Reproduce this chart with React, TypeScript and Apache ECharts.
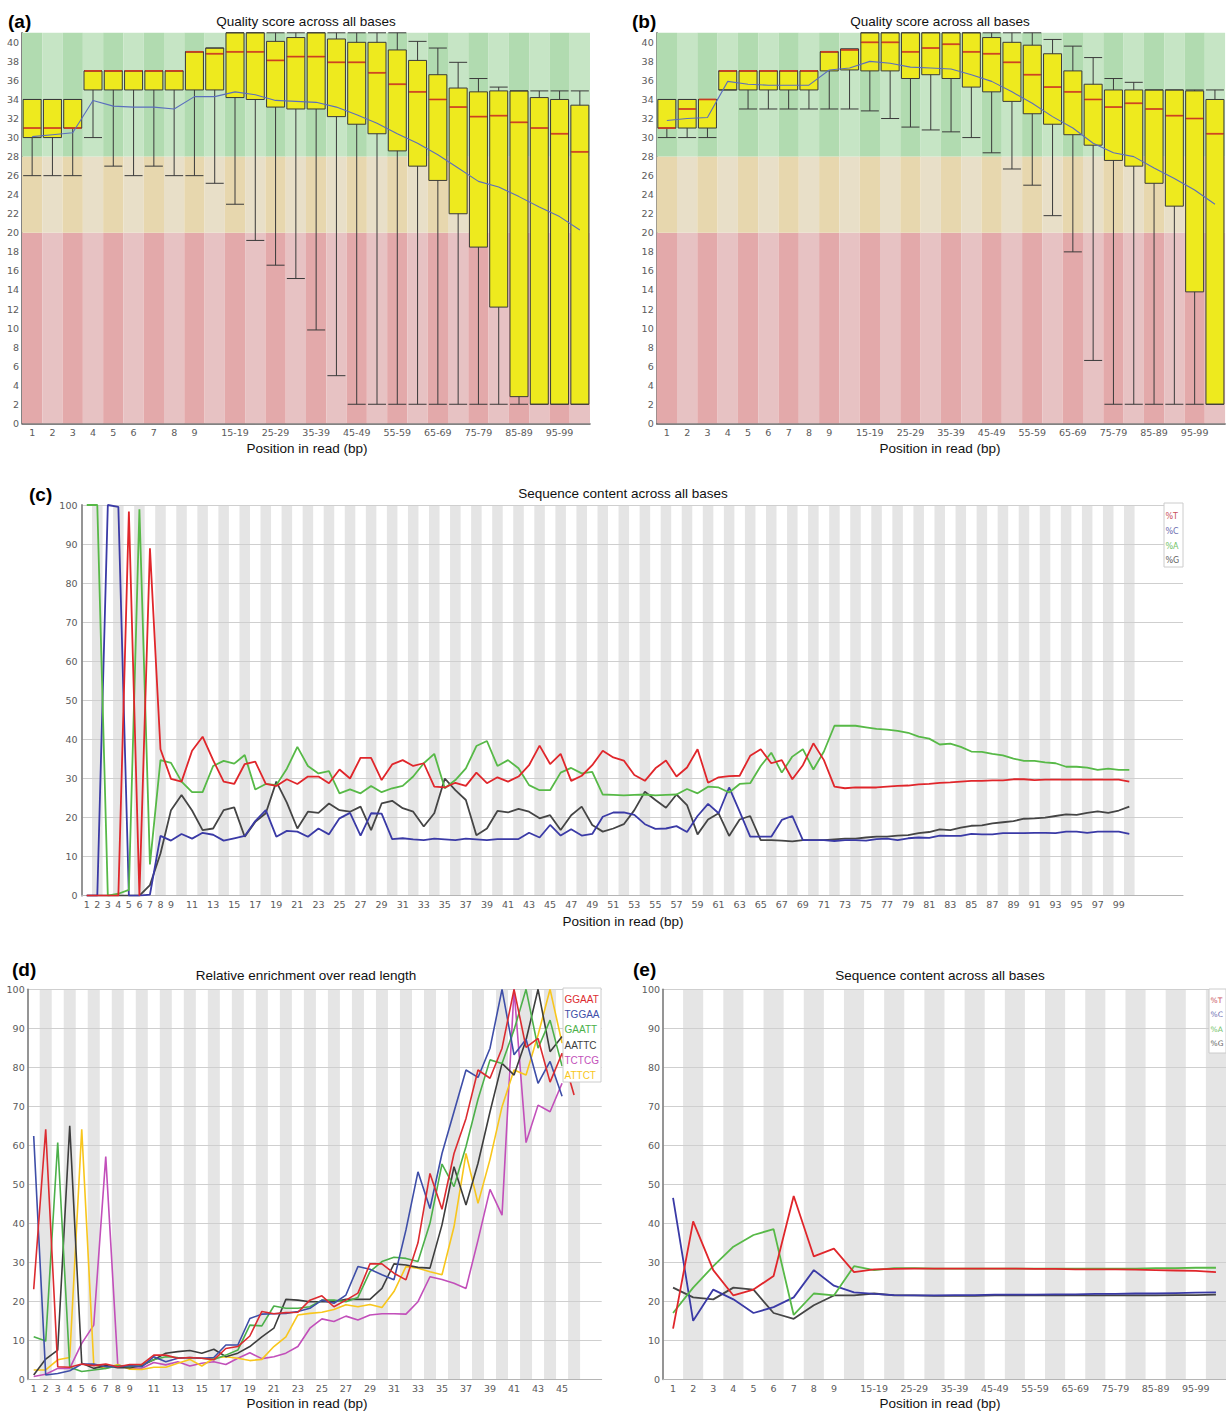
import React, { useEffect, useRef } from 'react';
import * as echarts from 'echarts';

// ---------- DATA ----------
const qualCats = ['1','2','3','4','5','6','7','8','9','10-14','15-19','20-24','25-29','30-34','35-39','40-44','45-49','50-54','55-59','60-64','65-69','70-74','75-79','80-84','85-89','90-94','95-99','100-101'];

// [min, Q1, median, Q3, max]
const boxA = [
  [26, 30, 31, 34, 34], [26, 30, 31, 34, 34], [26, 31, 31, 34, 34], [30, 35, 37, 37, 37],
  [27, 35, 37, 37, 37], [26, 35, 37, 37, 37], [27, 35, 37, 37, 37], [26, 35, 37, 37, 37],
  [26, 35, 39, 39, 39], [25.2, 35, 38.8, 39.4, 39.4], [23, 34.2, 39, 41, 41], [19.2, 34, 39, 41, 41],
  [16.6, 33.2, 38.1, 40.1, 41], [15.2, 33, 38.5, 40.5, 41], [9.8, 33, 38.5, 41, 41], [5, 32.2, 37.9, 40.35, 41],
  [2, 31.4, 37.9, 40, 41], [2, 30.4, 36.8, 40, 41], [2, 28.6, 35.6, 39.2, 41], [2, 27, 34.8, 38.1, 40.1],
  [2, 25.5, 34, 36.6, 39.4], [2, 22, 33.2, 35.2, 37.9], [2, 18.5, 32.2, 34.8, 36.2], [2, 12.2, 32.3, 34.9, 35.3],
  [2, 2.8, 31.6, 34.9, 34.9], [2, 2, 31, 34.2, 34.9], [2, 2, 30.4, 34, 34.9], [2, 2, 28.5, 33.4, 34.9]
];
const meanA = [30.1, 30.3, 30.5, 33.9, 33.3, 33.2, 33.2, 33.0, 34.3, 34.3, 34.8, 34.5, 33.9, 33.8, 33.7, 33.2, 32.4, 31.5, 30.4, 29.4, 28.2, 26.8, 25.4, 24.8, 23.8, 22.7, 21.7, 20.3];

const boxB = [
  [30, 31, 31, 34, 34], [30, 31, 33, 34, 34], [30, 31, 34, 34, 34], [35, 35, 37, 37, 37],
  [33, 35, 37, 37, 37], [33, 35, 37, 37, 37], [33, 35, 37, 37, 37], [33, 35, 37, 37, 37],
  [33, 37, 39, 39, 39], [33, 37.1, 39.2, 39.3, 39.3], [32.8, 37, 40, 41, 41], [32, 37, 40, 41, 41],
  [31.1, 36.2, 39, 41, 41], [30.8, 36.6, 39.4, 41, 41], [30.6, 36.2, 39.8, 41, 41], [30, 35.3, 39, 41, 41],
  [28.4, 34.8, 38.8, 40.5, 41], [26.7, 33.8, 37.9, 40, 41], [25, 32.5, 36.6, 39.7, 41], [21.8, 31.4, 35.3, 38.8, 40.3],
  [18, 30.3, 34.8, 37, 39.6], [6.6, 29.2, 34, 35.6, 38.4], [2, 27.6, 33.2, 35, 36.2], [2, 27, 33.6, 35, 35.8],
  [2, 25.2, 33, 35, 35], [2, 22.8, 32.3, 35, 35], [2, 13.8, 32, 34.9, 35], [2, 2, 30.4, 34, 35]
];
const meanB = [31.8, 32.0, 32.1, 35.9, 35.6, 35.5, 35.5, 35.5, 37.1, 37.3, 38.0, 37.8, 37.4, 37.3, 37.2, 36.6, 35.9, 34.8, 33.6, 32.2, 31.0, 29.4, 28.4, 28.0, 26.8, 25.7, 24.5, 23.0];

const qualZoneTops = [20, 28, 41];

// panel (c): positions 1..100
const contentT = [
  0, 0, 0, 0, 98.3, 0, 88.9, 37.5, 29.9, 29.2,
  37.1, 40.7, 34.7, 29.2, 28.6, 33.7, 34.3, 28.6, 28.1, 29.8,
  28.6, 30.5, 30.5, 28.8, 32.3, 30.0, 35.3, 35.3, 29.6, 33.6,
  34.7, 33.2, 33.9, 27.9, 27.7, 28.9, 28.1, 31.5, 28.8, 30.3,
  29.2, 30.5, 33.4, 38.4, 33.7, 36.3, 29.4, 30.7, 33.4, 37.1,
  35.4, 34.6, 30.9, 29.4, 32.6, 34.6, 30.5, 32.8, 37.5, 28.9,
  30.3, 30.6, 30.7, 35.8, 37.5, 33.9, 34.7, 29.8, 33.4, 39.0,
  34.7, 27.9, 27.5, 27.7, 27.7, 27.7, 27.9, 28.1, 28.2, 28.5,
  28.6, 28.9, 29.0, 29.2, 29.4, 29.4, 29.5, 29.5, 29.8, 29.8,
  29.6, 29.7, 29.7, 29.7, 29.7, 29.7, 29.7, 29.7, 29.7, 29.2
];
const contentC = [
  0, 0, 100, 99.5, 0, 0, 0.3, 15.3, 14.1, 15.8,
  14.6, 16.1, 15.6, 14.1, 14.7, 15.3, 19.1, 21.9, 15.1, 16.6,
  16.4, 15.1, 17.2, 15.7, 19.8, 21.2, 15.4, 21.1, 21.0, 14.5,
  14.7, 14.4, 14.2, 14.6, 14.4, 14.2, 14.6, 14.4, 14.2, 14.5,
  14.5, 14.5, 16.1, 14.9, 18.1, 15.4, 17.0, 15.4, 15.8, 20.2,
  21.3, 21.3, 20.7, 18.3, 17.1, 17.2, 17.8, 16.3, 20.4, 23.5,
  21.1, 27.7, 21.5, 15.1, 15.1, 15.1, 19.4, 20.4, 14.2, 14.2,
  14.2, 14.0, 14.2, 14.2, 14.1, 14.5, 14.6, 14.2, 14.7, 14.9,
  14.8, 15.4, 15.3, 15.3, 15.8, 15.7, 15.7, 16.0, 16.0, 16.0,
  16.1, 16.1, 16.0, 16.4, 16.4, 16.1, 16.4, 16.4, 16.4, 15.8
];
const contentA = [
  100, 100, 0, 0.5, 1.5, 98.9, 8.0, 34.7, 34.0, 29.2,
  26.5, 26.5, 33.2, 34.5, 33.8, 36.0, 27.2, 28.6, 28.3, 32.5,
  38.1, 33.2, 31.3, 31.9, 26.2, 27.2, 26.2, 28.1, 26.5, 27.5,
  28.1, 30.5, 33.9, 36.3, 27.5, 29.6, 32.6, 38.3, 39.6, 33.2,
  34.7, 32.6, 28.3, 27.0, 27.0, 31.5, 32.7, 31.3, 31.7, 25.9,
  25.8, 25.7, 25.8, 25.9, 25.7, 25.8, 25.9, 27.3, 26.2, 27.9,
  27.7, 26.4, 28.6, 28.8, 33.2, 36.6, 31.5, 35.6, 37.5, 32.3,
  36.9, 43.5, 43.5, 43.5, 43.1, 42.7, 42.5, 42.2, 41.7, 40.7,
  40.2, 38.7, 38.9, 38.1, 36.9, 36.8, 36.3, 35.9, 35.1, 34.5,
  34.5, 34.1, 33.9, 33.0, 33.0, 32.8, 32.2, 32.5, 32.2, 32.2
];
const contentG = [
  0, 0, 0, 0, 0, 0, 2.7, 10.8, 21.9, 25.8,
  21.8, 16.8, 17.2, 21.9, 22.6, 15.1, 18.9, 21.1, 29.2, 23.8,
  17.2, 21.5, 21.2, 23.6, 21.9, 21.5, 22.8, 16.8, 23.6, 24.3,
  22.4, 21.5, 17.7, 21.1, 30.0, 27.0, 24.5, 15.5, 17.2, 21.7,
  21.3, 22.2, 21.5, 19.8, 20.6, 16.8, 20.6, 22.8, 18.1, 16.4,
  17.2, 18.3, 21.9, 26.6, 24.5, 22.5, 25.9, 23.2, 15.7, 19.5,
  21.1, 15.3, 19.5, 20.4, 14.2, 14.2, 14.1, 13.9, 14.2, 14.2,
  14.2, 14.4, 14.6, 14.6, 14.9, 15.1, 15.1, 15.4, 15.5, 16.0,
  16.3, 17.0, 16.8, 17.4, 17.9, 18.0, 18.5, 18.8, 19.1, 19.7,
  19.8, 20.0, 20.4, 20.8, 20.7, 21.2, 21.6, 21.2, 21.8, 22.8
];
const contentTickLabels = [1, 2, 3, 4, 5, 6, 7, 8, 9, 11, 13, 15, 17, 19, 21, 23, 25, 27, 29, 31, 33, 35, 37, 39, 41, 43, 45, 47, 49, 51, 53, 55, 57, 59, 61, 63, 65, 67, 69, 71, 73, 75, 77, 79, 81, 83, 85, 87, 89, 91, 93, 95, 97, 99];

// panel (d): positions 1..46
const kmerGGAAT = [23.1, 64.1, 3.2, 3.1, 3.9, 3.5, 3.9, 3.2, 3.8, 3.8, 6.2, 6.2, 5.4, 5.6, 5.4, 5.0, 7.9, 8.4, 11.1, 17.4, 16.8, 17.1, 17.2, 20.3, 21.4, 18.6, 20.3, 22.1, 29.6, 29.6, 27.2, 25.5, 35.0, 52.8, 43.6, 57.9, 66.9, 79.3, 77.2, 84.9, 100, 85.1, 87.4, 76.2, 83.6, 72.9];
const kmerTGGAA = [62.4, 1.1, 1.5, 2.2, 3.9, 3.9, 3.2, 3.2, 3.5, 3.2, 5.8, 4.5, 5.4, 5.6, 5.4, 5.6, 8.8, 8.8, 15.6, 16.7, 16.8, 16.9, 17.4, 18.2, 20.3, 19.5, 21.6, 28.9, 28.2, 26.8, 25.5, 38.3, 53.2, 43.8, 57.9, 68.6, 79.3, 77.4, 84.9, 100, 83.2, 87.2, 75.9, 81.5, 72.6];
const kmerGAATT = [10.9, 9.8, 60.7, 3.1, 2.0, 2.4, 2.8, 3.5, 3.2, 3.8, 5.0, 5.8, 5.6, 5.5, 5.4, 5.1, 6.2, 7.5, 13.9, 13.7, 18.8, 18.2, 18.2, 18.6, 20.3, 20.3, 19.9, 21.0, 27.6, 30.2, 31.3, 31.0, 30.2, 40.0, 55.2, 49.4, 59.7, 71.8, 81.9, 81.0, 89.6, 100, 84.9, 92.1, 80.3];
const kmerAATTC = [1.1, 5.2, 7.5, 65.0, 4.1, 2.8, 3.5, 3.0, 3.0, 3.5, 5.0, 6.7, 7.1, 7.4, 6.7, 7.7, 5.8, 6.7, 8.4, 10.9, 13.1, 20.5, 20.3, 19.9, 19.9, 19.9, 20.5, 20.5, 20.5, 23.3, 29.6, 29.3, 28.7, 28.5, 39.6, 54.5, 44.7, 55.4, 68.6, 81.0, 78.0, 87.0, 100, 84.0, 87.9];
const kmerTCTCG = [0.7, 1.3, 2.8, 2.8, 9.2, 13.9, 57.1, 3.7, 2.8, 2.8, 4.3, 3.7, 4.5, 3.4, 4.1, 4.5, 3.8, 5.4, 6.8, 5.3, 5.8, 6.7, 8.4, 13.1, 15.5, 14.8, 16.2, 15.2, 16.5, 16.8, 16.8, 16.7, 19.9, 26.3, 25.6, 24.6, 23.3, 35.7, 48.7, 42.1, 100, 60.7, 70.3, 68.6, 75.9];
const kmerATTCT = [2.4, 2.4, 5.0, 5.6, 64.1, 3.8, 2.8, 3.8, 2.6, 2.5, 3.1, 3.1, 4.1, 5.1, 3.4, 5.4, 5.8, 5.4, 4.8, 5.1, 8.4, 10.9, 16.5, 16.9, 17.2, 17.9, 19.1, 18.6, 19.2, 18.4, 22.5, 28.9, 28.5, 27.6, 26.8, 39.1, 57.9, 45.1, 56.4, 69.9, 79.3, 78.0, 88.3, 100, 86.2];
const kmerTickLabels = [1, 2, 3, 4, 5, 6, 7, 8, 9, 11, 13, 15, 17, 19, 21, 23, 25, 27, 29, 31, 33, 35, 37, 39, 41, 43, 45];

// panel (e): grouped positions
const eT = [13, 40.5, 28, 21.5, 23, 26.5, 47, 31.5, 33.5, 27.5, 28.2, 28.3, 28.4, 28.4, 28.4, 28.4, 28.4, 28.4, 28.3, 28.3, 28.2, 28.2, 28.2, 28.1, 28.0, 27.9, 27.8, 27.5];
const eC = [46.5, 15, 23, 20.5, 17, 18.5, 21, 28, 24, 22.3, 21.9, 21.6, 21.5, 21.5, 21.6, 21.6, 21.7, 21.7, 21.7, 21.8, 21.8, 21.9, 21.9, 22.0, 22.0, 22.1, 22.2, 22.3];
const eA = [17, 23.5, 29, 34, 37, 38.5, 16.5, 22, 21.5, 29, 28, 28.5, 28.5, 28.4, 28.4, 28.4, 28.4, 28.4, 28.4, 28.4, 28.4, 28.4, 28.4, 28.4, 28.5, 28.5, 28.6, 28.6];
const eG = [23.5, 21, 20.5, 23.5, 23, 17, 15.5, 19, 21.5, 21.5, 22, 21.5, 21.5, 21.4, 21.4, 21.4, 21.5, 21.5, 21.5, 21.5, 21.5, 21.5, 21.5, 21.5, 21.5, 21.6, 21.6, 21.7];

// ---------- STYLE ----------
const zoneColors = [
  ['#e3a9aa', '#e7c2c3'],
  ['#e7d7ae', '#e8dfc8'],
  ['#b1dbb0', '#c6e5c5'],
];
const baseColors = { T: '#e0262b', C: '#3a3aa6', A: '#57b947', G: '#454545' };
const kmerColors = ['#dc2b30', '#3e4ea8', '#4cb04a', '#3d3d3d', '#c24fba', '#f8c61c'];
const tickLabel = { fontFamily: 'DejaVu Sans', fontSize: 9.5, color: '#5a5a5a' };
const stripeColor = '#e5e5e5';

const catInterval = (index: number) => index < 9 || (index >= 10 && index <= 26 && (index - 10) % 2 === 0);

function buildOption() {
  const grids = [
    { left: 22, top: 32.8, width: 568, height: 390.5 },
    { left: 656.7, top: 32.8, width: 568.4, height: 390.5 },
    { left: 81.5, top: 505, width: 1101.5, height: 390.7 },
    { left: 27.7, top: 989.3, width: 574, height: 390 },
    { left: 663, top: 989.3, width: 565.6, height: 390 },
  ];

  const qualX = (g: number) => ({
    type: 'category', gridIndex: g, data: qualCats,
    axisTick: { show: false },
    axisLine: { show: true, lineStyle: { color: '#5a5a5a', width: 1.5 } },
    axisLabel: { ...tickLabel, interval: catInterval, margin: 4 },
    splitLine: { show: false },
  });
  const qualY = (g: number) => ({
    type: 'value', gridIndex: g, min: 0, max: 41, interval: 2,
    axisTick: { show: false },
    axisLine: { show: true, lineStyle: { color: '#5a5a5a', width: 1.5 } },
    axisLabel: { ...tickLabel, margin: 3, formatter: (v: number) => (v % 2 === 0 ? String(v) : '') },
    splitLine: { show: false },
  });
  const valX = (g: number, max: number, ticks: number[]) => ({
    type: 'value', gridIndex: g, min: 0.5, max, z: 1,
    axisTick: { show: false },
    axisLine: { show: true, onZero: false, lineStyle: { color: '#b5b5b5', width: 1 } },
    axisLabel: { ...tickLabel, margin: 4, customValues: ticks, showMinLabel: true, showMaxLabel: true },
    splitLine: { show: false },
  });
  const pctY = (g: number, margin: number) => ({
    type: 'value', gridIndex: g, min: 0, max: 100, interval: 10, z: 1,
    axisTick: { show: false },
    axisLine: { show: true, lineStyle: { color: '#8a8a8a', width: 1.8 } },
    axisLabel: { ...tickLabel, margin },
    splitLine: { show: true, lineStyle: { color: '#cfcfcf', width: 1 } },
  });

  const xAxis = [
    qualX(0), qualX(1),
    valX(2, 105.1, contentTickLabels),
    valX(3, 48.3, kmerTickLabels),
    { ...qualX(4), z: 1, axisLine: { show: true, lineStyle: { color: '#b5b5b5', width: 1 } } },
  ];
  const yAxis = [qualY(0), qualY(1), pctY(2, 4), pctY(3, 3), pctY(4, 3)];

  const series: any[] = [];

  const addQuality = (g: number, box: number[][], mean: number[]) => {
    let prev = 0;
    qualZoneTops.forEach((top, zi) => {
      const h = top - prev;
      prev = top;
      series.push({
        type: 'bar', xAxisIndex: g, yAxisIndex: g, stack: 'zones' + g, silent: true, z: 1,
        barCategoryGap: '0%', barGap: '0%',
        data: qualCats.map((_, i) => ({ value: h, itemStyle: { color: zoneColors[zi][i % 2] } })),
      });
    });
    series.push({
      type: 'boxplot', xAxisIndex: g, yAxisIndex: g, silent: true, z: 2,
      boxWidth: [18, 18],
      itemStyle: { color: '#eeea1e', borderColor: '#3a3a3a', borderWidth: 1 },
      data: box,
    });
    series.push({
      type: 'scatter', xAxisIndex: g, yAxisIndex: g, silent: true, z: 3,
      symbol: 'rect', symbolSize: [17, 1.8],
      itemStyle: { color: '#ea3f1e' },
      data: box.map((b) => b[2]),
    });
    series.push({
      type: 'line', xAxisIndex: g, yAxisIndex: g, silent: true, z: 4,
      symbol: 'none', lineStyle: { color: '#5b6ebd', width: 1.1 },
      data: mean,
    });
  };
  addQuality(0, boxA, meanA);
  addQuality(1, boxB, meanB);

  // stripes (c) and (d)
  const stripeSeries = (g: number, n: number) => {
    const areas: any[] = [];
    for (let p = 2; p <= n; p += 2) areas.push([{ xAxis: p - 0.5 }, { xAxis: p + 0.5 }]);
    series.push({
      type: 'line', xAxisIndex: g, yAxisIndex: g, data: [], silent: true, z: 0,
      markArea: { silent: true, z: 0, itemStyle: { color: stripeColor }, data: areas },
    });
  };
  stripeSeries(2, 100);
  stripeSeries(3, 46);

  const contentSets: [string, number[], string][] = [
    ['%G', contentG, baseColors.G], ['%C', contentC, baseColors.C],
    ['%A', contentA, baseColors.A], ['%T', contentT, baseColors.T],
  ];
  contentSets.forEach(([name, arr, color]) => {
    series.push({
      name, type: 'line', xAxisIndex: 2, yAxisIndex: 2, silent: true, z: 3,
      symbol: 'none', lineStyle: { color, width: 1.8 },
      data: arr.map((v, i) => [i + 1, v]),
    });
  });

  const kmerSets: [string, number[]][] = [
    ['TCTCG', kmerTCTCG], ['ATTCT', kmerATTCT], ['AATTC', kmerAATTC],
    ['GAATT', kmerGAATT], ['TGGAA', kmerTGGAA], ['GGAAT', kmerGGAAT],
  ];
  const kmerColorByName: Record<string, string> = {
    GGAAT: kmerColors[0], TGGAA: kmerColors[1], GAATT: kmerColors[2],
    AATTC: kmerColors[3], TCTCG: kmerColors[4], ATTCT: kmerColors[5],
  };
  kmerSets.forEach(([name, arr]) => {
    series.push({
      name, type: 'line', xAxisIndex: 3, yAxisIndex: 3, silent: true, z: 3,
      symbol: 'none', lineStyle: { color: kmerColorByName[name], width: 1.6 },
      data: arr.map((v, i) => [i + 1, v]),
    });
  });

  // (e) stripes via bars
  series.push({
    type: 'bar', xAxisIndex: 4, yAxisIndex: 4, silent: true, z: 0,
    barCategoryGap: '0%', itemStyle: { color: stripeColor },
    data: qualCats.map((_, i) => (i % 2 === 1 ? 100 : 0)),
  });
  const eSets: [string, number[], string][] = [
    ['%G', eG, baseColors.G], ['%C', eC, baseColors.C],
    ['%A', eA, baseColors.A], ['%T', eT, baseColors.T],
  ];
  eSets.forEach(([name, arr, color]) => {
    series.push({
      name, type: 'line', xAxisIndex: 4, yAxisIndex: 4, silent: true, z: 3,
      symbol: 'none', lineStyle: { color, width: 1.8 },
      data: arr,
    });
  });

  const txt = (text: string, x: number, y: number, font: string, fill = '#111', align = 'center') => ({
    type: 'text', x, y, z: 100, silent: true,
    style: { text, font, fill, textAlign: align, textVerticalAlign: 'middle', align, verticalAlign: 'middle' },
  });
  const titleFont = '13.5px "Liberation Sans", Arial, sans-serif';
  const panelFont = 'bold 19px "Liberation Sans", Arial, sans-serif';

  const legendBox = (x: number, y: number, w: number, h: number, items: [string, string][], tx: number, ty: number, step: number, font: string) => {
    const els: any[] = [{
      type: 'rect', shape: { x, y, width: w, height: h }, z: 90, silent: true,
      style: { fill: '#ffffff', stroke: '#cccccc', lineWidth: 1 },
    }];
    items.forEach(([t, c], i) => els.push(txt(t, tx, ty + i * step, font, c, 'left')));
    return els;
  };

  const graphic = [
    txt('(a)', 8, 21, panelFont, '#000', 'left'),
    txt('(b)', 632, 21, panelFont, '#000', 'left'),
    txt('(c)', 29, 494, panelFont, '#000', 'left'),
    txt('(d)', 12, 969, panelFont, '#000', 'left'),
    txt('(e)', 633, 969, panelFont, '#000', 'left'),
    txt('Quality score across all bases', 306, 21, titleFont),
    txt('Quality score across all bases', 940, 21, titleFont),
    txt('Sequence content across all bases', 623, 493, titleFont),
    txt('Relative enrichment over read length', 306, 975, titleFont),
    txt('Sequence content across all bases', 940, 975, titleFont),
    txt('Position in read (bp)', 307, 448, titleFont),
    txt('Position in read (bp)', 940, 448, titleFont),
    txt('Position in read (bp)', 623, 921, titleFont),
    txt('Position in read (bp)', 307, 1403, titleFont),
    txt('Position in read (bp)', 940, 1403, titleFont),
    ...legendBox(1164, 503, 19, 64, [['%T', '#c9505c'], ['%C', '#6b6bb0'], ['%A', '#72c268'], ['%G', '#606060']], 1165.5, 516.5, 14.8, '8px "DejaVu Sans", sans-serif'),
    ...legendBox(563, 988, 38, 94, [['GGAAT', kmerColors[0]], ['TGGAA', kmerColors[1]], ['GAATT', kmerColors[2]], ['AATTC', kmerColors[3]], ['TCTCG', kmerColors[4]], ['ATTCT', kmerColors[5]]], 564.5, 999.5, 15.2, '10px "Liberation Sans", Arial, sans-serif'),
    ...legendBox(1209, 989, 17, 64, [['%T', '#c9505c'], ['%C', '#6b6bb0'], ['%A', '#72c268'], ['%G', '#606060']], 1210.5, 1000, 14.5, '7.5px "DejaVu Sans", sans-serif'),
  ];

  return { animation: false, backgroundColor: '#ffffff', grid: grids, xAxis, yAxis, series, graphic };
}

export default function App() {
  const ref = useRef<HTMLDivElement>(null);
  useEffect(() => {
    if (!ref.current) return;
    const chart = echarts.init(ref.current, null, { renderer: 'svg' });
    chart.setOption(buildOption() as any);
    return () => chart.dispose();
  }, []);
  return (
    <div
      ref={ref}
      style={{ position: 'absolute', left: 0, top: 0, width: 1226, height: 1411, background: '#ffffff' }}
    />
  );
}
